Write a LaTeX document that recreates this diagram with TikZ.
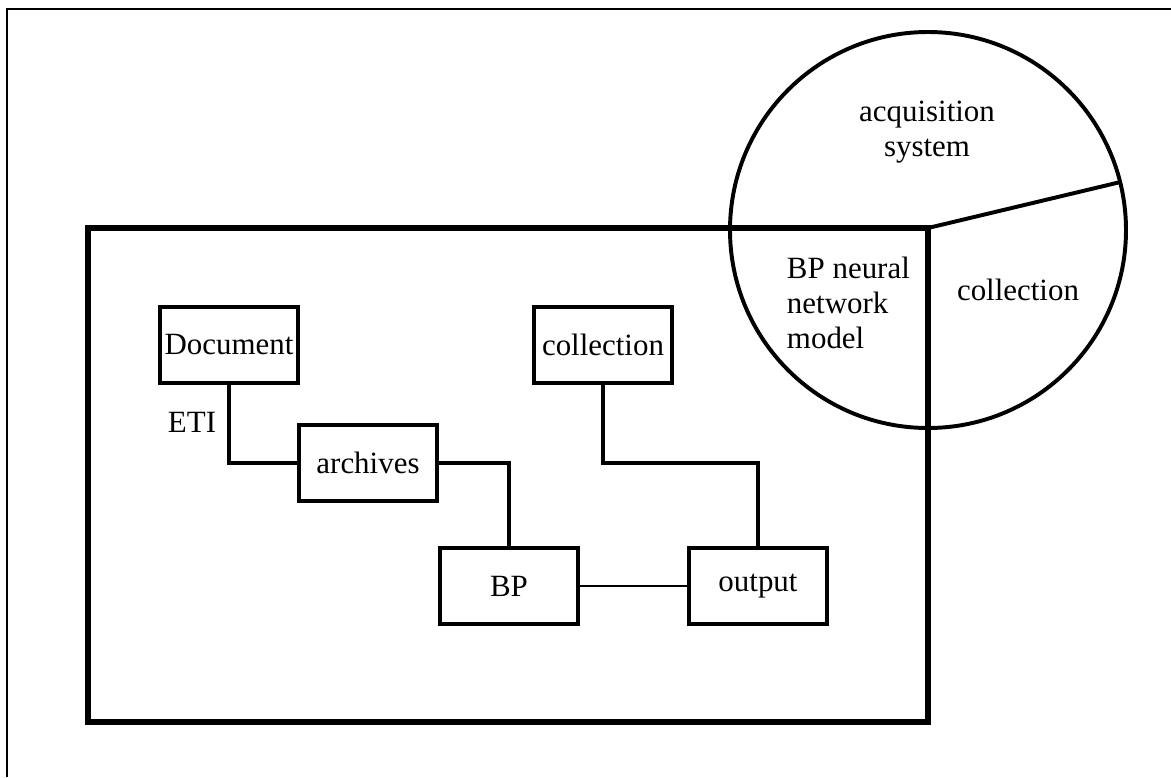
\documentclass[tikz,border=0pt]{standalone}
\usepackage{fontspec}
\setmainfont{Liberation Serif}
\usepackage{tikz}
\usetikzlibrary{calc}

\begin{document}
\begin{tikzpicture}[x=0.025cm, y=-0.025cm,
    font=\fontsize{22}{25}\selectfont,
    box/.style={draw, line width=3.2pt, minimum width=3.45cm, minimum height=1.9cm, inner sep=0pt},
    link/.style={line width=3pt},
    thinlink/.style={line width=1.6pt}]

\useasboundingbox (0,0) rectangle (1171,777);

% Rahmen
\draw[line width=2pt] (7,777) -- (7,9) -- (1171,9);

% Systemkreis
\coordinate (c) at (928,230);
\draw[line width=2.8pt] (c) circle (198);
\draw[line width=2.8pt] (928,228) -- ($(c)+(-14:198)$);
\node (acq) at (927,132) [align=center] {acquisition\\system};
\node (bpnn) at (782,303) [anchor=west, align=left] {BP neural\\network\\model};
\node (coll2) at (1018,290) {collection};

% Modellrahmen
\draw[line width=3.6pt] (88,228) rectangle (928,722);

% Bausteine
\node[box] (doc)  at (229,345) {Document};
\node[box] (arch) at (368,463) {archives};
\node[box] (coll) at (603,345) {collection};
\node[box] (bp)   at (509,586) {BP};
\node[box] (out)  at (758,586) {output};
\node (eti) at (192,422) {ETI};

% Verbindungen
\draw[link] (doc) |- (arch);
\draw[link] (arch) -| (bp);
\draw[link] (coll) |- (arch -| out) -- (out);
\draw[thinlink] (bp) -- (out);

\end{tikzpicture}
\end{document}
